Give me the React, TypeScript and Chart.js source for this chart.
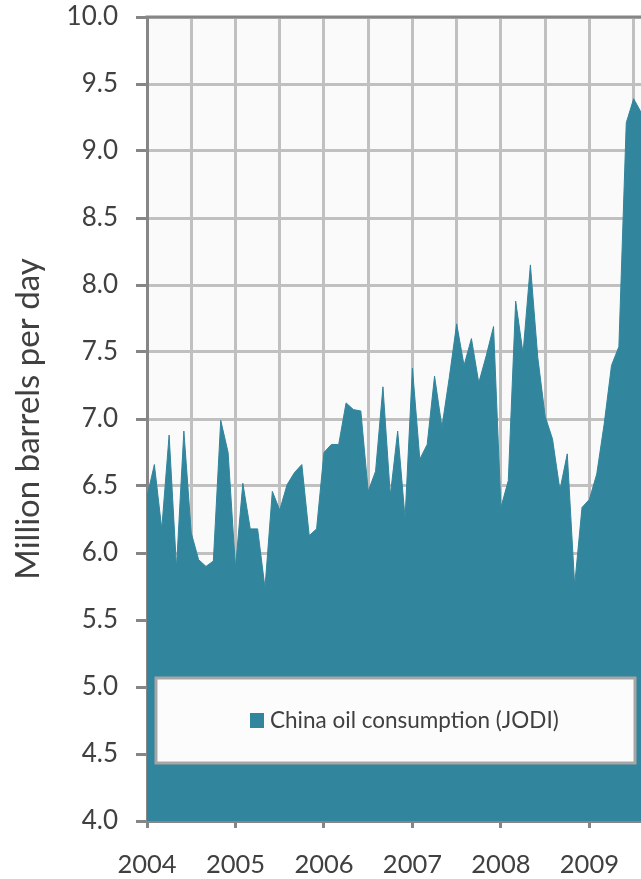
import React, { useEffect, useRef } from "react";
import { Chart, registerables } from "chart.js";

Chart.register(...registerables);

// Monthly China oil consumption (JODI), million barrels per day, Jan 2004 .. Aug 2009
const consumption: number[] = [
  6.42, 6.66, 6.18, 6.88, 5.89, 6.91, 6.15, 5.95, 5.90, 5.94, 6.99, 6.75, // 2004
  5.89, 6.52, 6.18, 6.18, 5.74, 6.46, 6.32, 6.51, 6.60, 6.66, 6.13, 6.18, // 2005
  6.75, 6.81, 6.81, 7.12, 7.07, 7.06, 6.46, 6.61, 7.24, 6.43, 6.91, 6.26, // 2006
  7.38, 6.70, 6.81, 7.32, 6.94, 7.31, 7.71, 7.40, 7.60, 7.27, 7.47, 7.69, // 2007
  6.34, 6.54, 7.88, 7.49, 8.15, 7.46, 7.02, 6.85, 6.47, 6.74, 5.76, 6.34, // 2008
  6.40, 6.59, 6.96, 7.40, 7.54, 9.21, 9.39, 9.29, // 2009
];
const yearLabels: string[] = ["2004", "2005", "2006", "2007", "2008", "2009"];
const seriesLabel = "China oil consumption (JODI)";
const yTitle = "Million barrels per day";
const yMin = 4;
const yMax = 10;
const yStep = 0.5;

const TEAL = "#31859c";
const AXIS = "#868686";
const GRID = "#c0c0c0";
const TEXT = "#404040";
const FONT = "Lato";

export default function App() {
  const ref = useRef<HTMLCanvasElement | null>(null);

  useEffect(() => {
    const canvas = ref.current;
    if (!canvas) return;

    const plotBg = {
      id: "plotBg",
      beforeDraw(chart: any) {
        const { ctx, chartArea: a } = chart;
        ctx.save();
        ctx.fillStyle = "#fafafa";
        ctx.fillRect(a.left, a.top, a.right - a.left, a.bottom - a.top);
        ctx.restore();
      },
      afterDraw(chart: any) {
        const { ctx, chartArea: a } = chart;
        ctx.save();
        ctx.strokeStyle = AXIS;
        ctx.lineWidth = 3;
        ctx.beginPath();
        ctx.moveTo(a.left - 1.5, a.top);
        ctx.lineTo(chart.width, a.top);
        ctx.stroke();
        ctx.restore();
      },
    };

    const boxLegend = {
      id: "boxLegend",
      afterDatasetsDraw(chart: any) {
        const { ctx } = chart;
        const ds = chart.data.datasets[0];
        ctx.save();
        ctx.fillStyle = "#fcfcfc";
        ctx.fillRect(156, 678, 479, 85);
        ctx.strokeStyle = "#a6a6a6";
        ctx.lineWidth = 3;
        ctx.strokeRect(156, 678, 479, 85);
        ctx.fillStyle = ds.backgroundColor;
        ctx.fillRect(250, 713, 14, 15);
        ctx.fillStyle = TEXT;
        ctx.font = `22.5px ${FONT}`;
        ctx.textBaseline = "alphabetic";
        ctx.textAlign = "left";
        ctx.fillText(ds.label, 270, 728);
        ctx.restore();
      },
    };

    const yTicks: number[] = [];
    for (let v = yMin; v <= yMax + 1e-9; v += yStep) yTicks.push(+v.toFixed(2));
    const xTicks: number[] = [];
    for (let m = 0; m < consumption.length; m += 6) xTicks.push(m);

    const chart = new Chart(canvas, {
      type: "line",
      data: {
        datasets: [
          {
            label: seriesLabel,
            data: consumption.map((v, i) => ({ x: i, y: v })),
            fill: "start",
            backgroundColor: TEAL,
            borderColor: TEAL,
            borderWidth: 1,
            pointRadius: 0,
            tension: 0,
          },
        ],
      },
      options: {
        responsive: false,
        animation: false,
        layout: { padding: { top: 17, right: 0, bottom: 0, left: 0 } },
        plugins: {
          legend: { display: false },
          tooltip: { enabled: false },
        },
        scales: {
          x: {
            type: "linear",
            min: 0,
            max: consumption.length - 1,
            afterBuildTicks: (scale: any) => {
              scale.ticks = xTicks.map((v) => ({ value: v }));
            },
            afterFit: (scale: any) => {
              scale.height = 58;
              scale.paddingLeft = 0;
              scale.paddingRight = 0;
            },
            border: { display: true, color: AXIS, width: 3 },
            grid: {
              color: GRID,
              lineWidth: 3,
              tickLength: 7,
              tickWidth: 3,
              tickColor: (c: any) =>
                c.tick && c.tick.value % 12 === 0 ? AXIS : "rgba(0,0,0,0)",
            },
            ticks: {
              autoSkip: false,
              maxRotation: 0,
              padding: 21,
              color: TEXT,
              font: { family: FONT, size: 25.5 },
              callback: (v: any) =>
                Number(v) % 12 === 0 ? yearLabels[Number(v) / 12] ?? "" : "",
            },
          },
          y: {
            min: yMin,
            max: yMax,
            afterBuildTicks: (scale: any) => {
              scale.ticks = yTicks.map((v) => ({ value: v }));
            },
            afterFit: (scale: any) => {
              scale.width = 147;
              scale.paddingTop = 0;
              scale.paddingBottom = 0;
            },
            border: { display: true, color: AXIS, width: 3 },
            grid: {
              color: GRID,
              lineWidth: 3,
              tickLength: 11,
              tickWidth: 3,
              tickColor: AXIS,
            },
            ticks: {
              padding: 18,
              color: TEXT,
              font: { family: FONT, size: 26 },
              callback: (v: any) => Number(v).toFixed(1),
            },
            title: {
              display: true,
              text: yTitle,
              color: TEXT,
              font: { family: FONT, size: 33 },
              padding: { top: 9, bottom: 0 },
            },
          },
        },
      },
      plugins: [plotBg, boxLegend],
    });

    return () => chart.destroy();
  }, []);

  return (
    <div style={{ position: "absolute", left: 0, top: 0, width: 641, height: 879 }}>
      <canvas ref={ref} width={641} height={879} style={{ display: "block" }} />
    </div>
  );
}
